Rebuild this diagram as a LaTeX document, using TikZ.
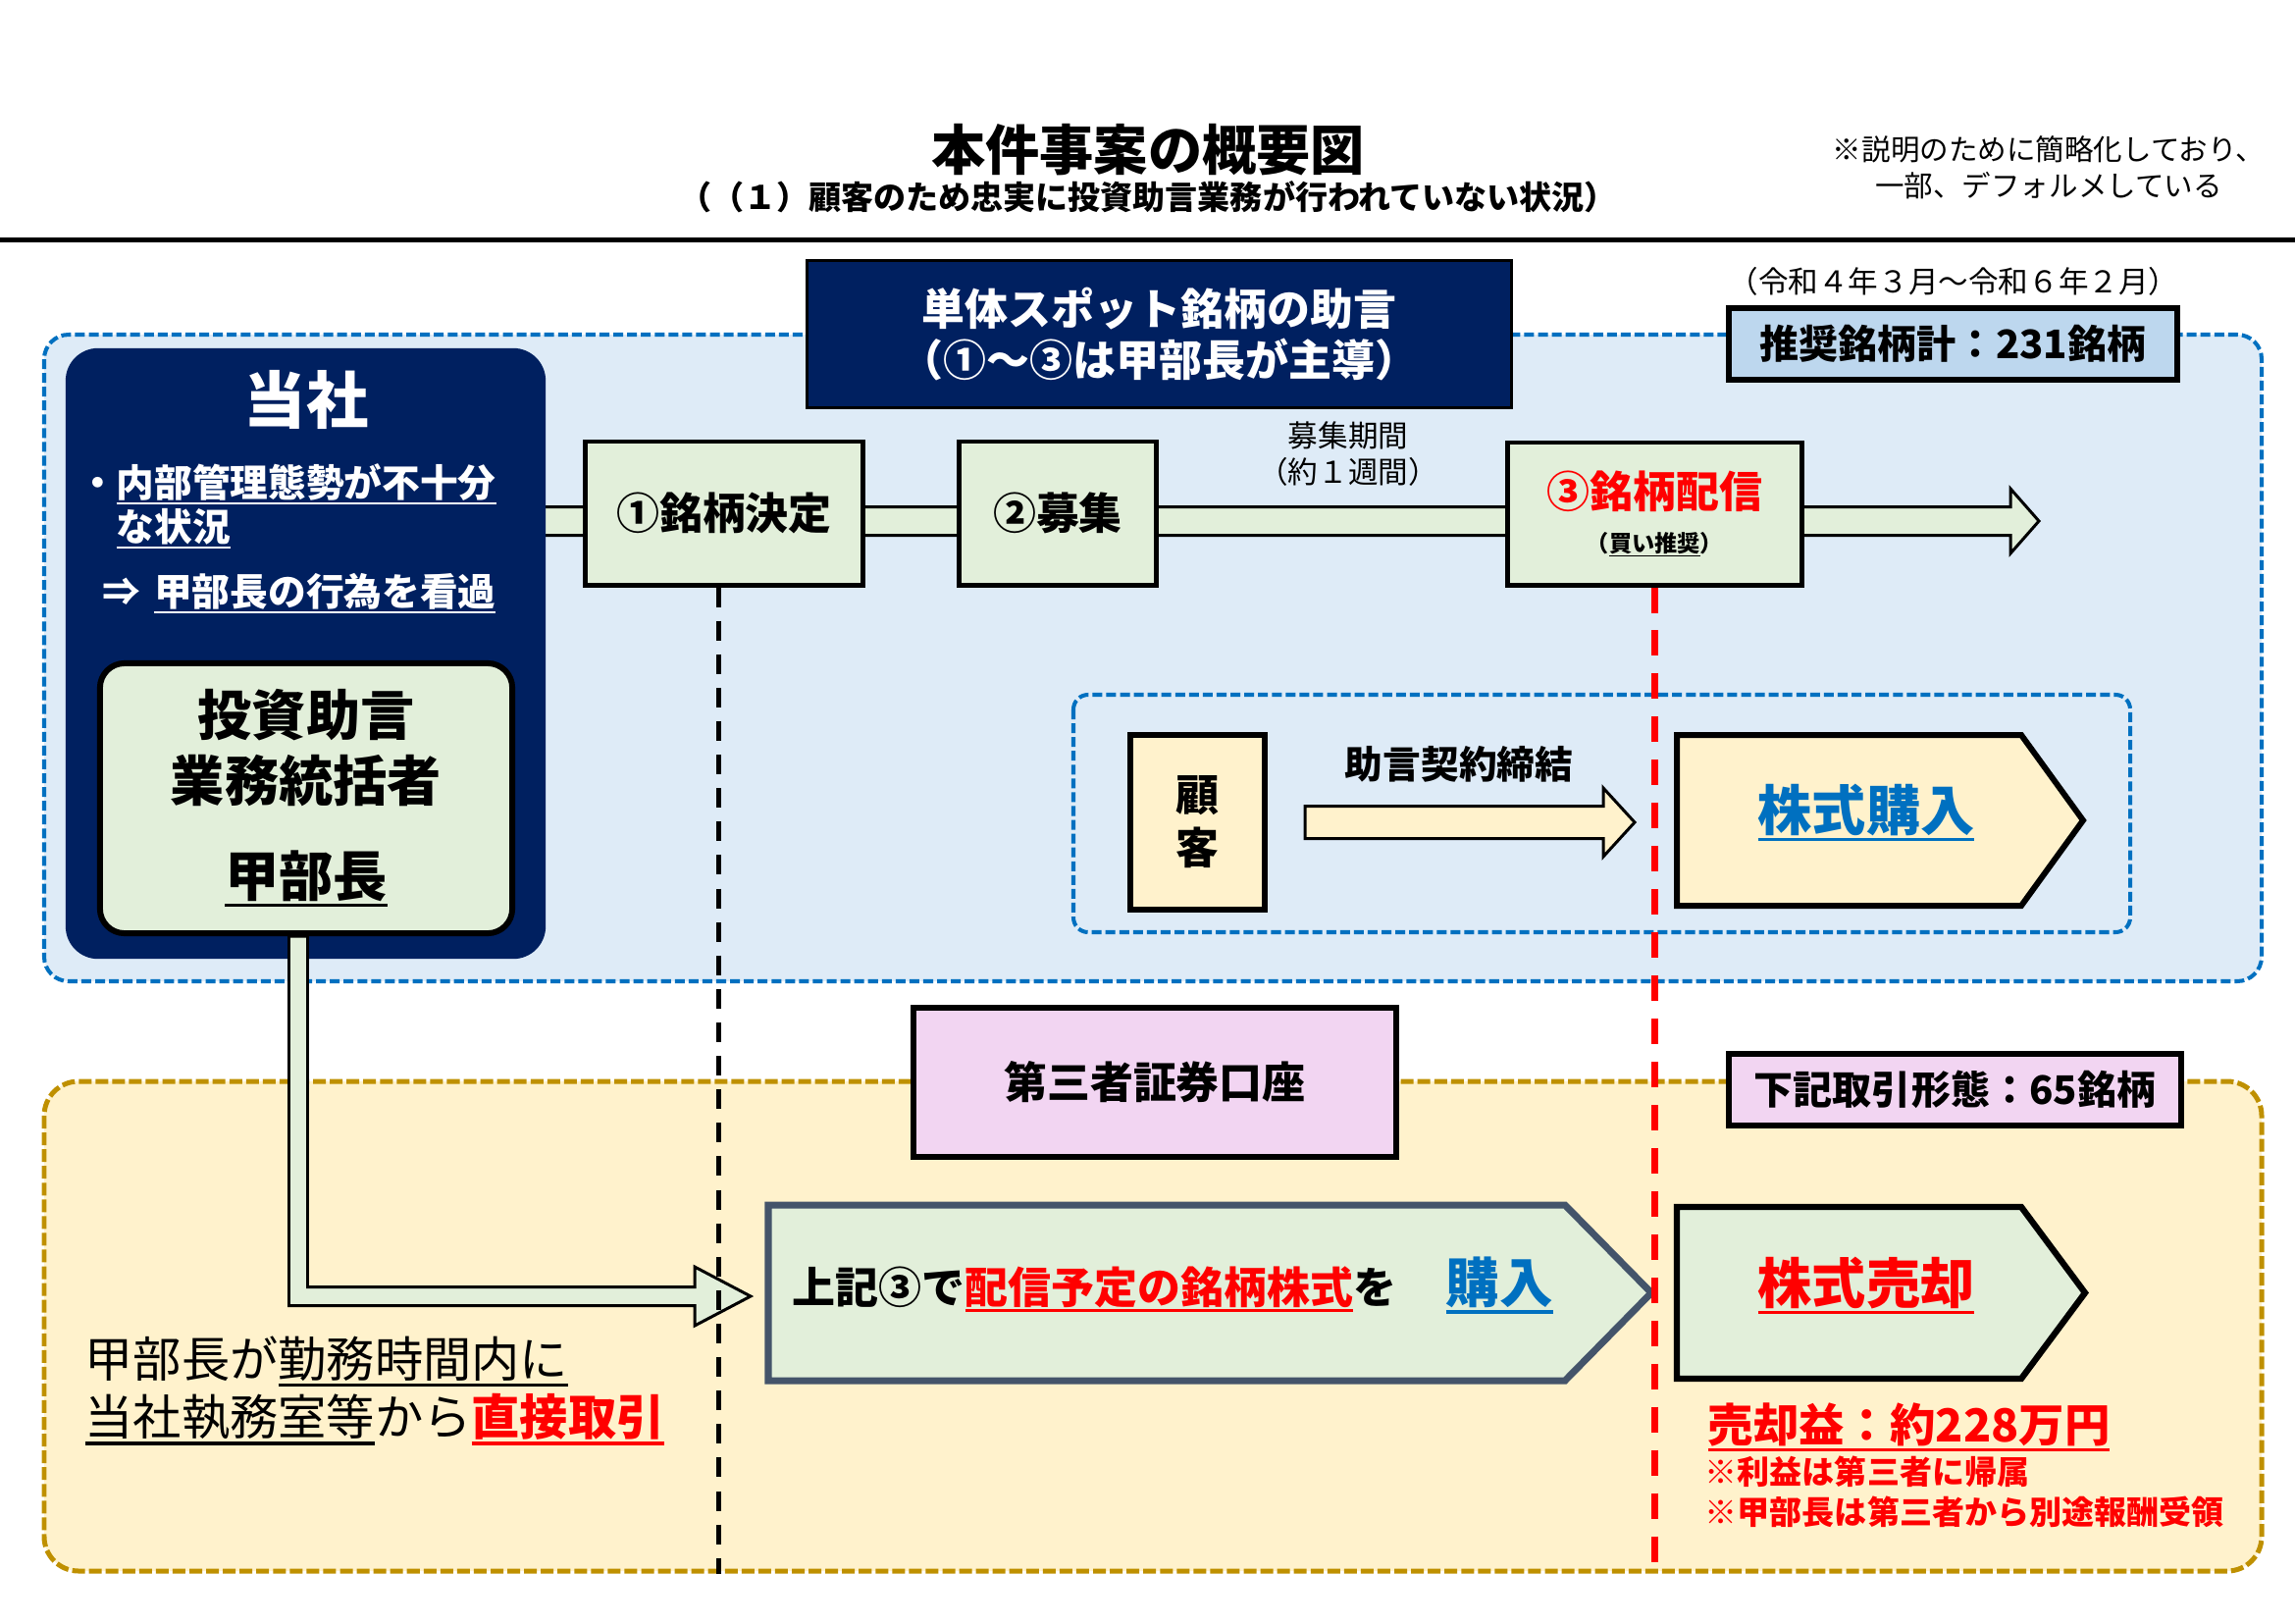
\documentclass[tikz,border=0pt]{standalone}
\usepackage{fontspec}
\setmainfont{Noto Sans CJK JP}
\usetikzlibrary{calc}
\definecolor{navy}{HTML}{002060}
\definecolor{paleblue}{HTML}{DEEBF7}
\definecolor{dashblue}{HTML}{0070C0}
\definecolor{linkblue}{HTML}{0070C0}
\definecolor{cream}{HTML}{FFF2CC}
\definecolor{gold}{HTML}{BF9000}
\definecolor{palegreen}{HTML}{E2EFDA}
\definecolor{lilac}{HTML}{F2D5F2}
\definecolor{skyblue}{HTML}{BDD7EE}
\definecolor{slate}{HTML}{44546A}
\definecolor{alert}{HTML}{FF0000}
\newsavebox\ulbox
\newcommand\ulbar[1]{\sbox\ulbox{#1}\rlap{\rule[-0.2em]{\wd\ulbox}{0.065em}}\usebox\ulbox}
\newcommand\fsz[2]{\fontsize{#1}{#2}\selectfont}
\def\penta#1#2#3{-- ++(#1,0) -- ++(#2,#3/2) -- ++(-#2,#3/2) -- ++(-#1,0) -- cycle}
\newcommand\fatarrow[6]{\filldraw[#1] ($(#2)+(0,-#4)$) -- ($(#3)+(-#6,-#4)$) -- ($(#3)+(-#6,-#5)$) -- (#3)
  -- ($(#3)+(-#6,#5)$) -- ($(#3)+(-#6,#4)$) -- ($(#2)+(0,#4)$) -- cycle;}
\newcommand\elbowarrow[6]{\filldraw[#1] ($(#2)+(-#4,0)$) -- ($(#2 |- #3)+(-#4,#4)$) -- ($(#3)+(-#6,#4)$)
  -- ($(#3)+(-#6,#5)$) -- (#3) -- ($(#3)+(-#6,-#5)$) -- ($(#3)+(-#6,-#4)$) -- ($(#2 |- #3)+(#4,-#4)$)
  -- ($(#2)+(#4,0)$) -- cycle;}

\begin{document}
\begin{tikzpicture}[x=0.01cm,y=-0.01cm,
  every node/.style={inner sep=0pt},
  zone/.style={line width=1.15pt, dash pattern=on 2.85pt off 1.15pt},
  stepbox/.style={draw, line width=1.4pt, fill=palegreen, font=\bfseries\fsz{12.5}{15}},
  tagbox/.style={draw, line width=1.7pt, font=\bfseries\fsz{11.4}{14}},
  fat/.style={draw, line width=0.85pt},
  vguide/.style={line width=1.42pt, dash pattern=on 5.7pt off 4pt},
  rguide/.style={draw=alert, line width=2pt, dash pattern=on 7.4pt off 5.1pt}]
\useasboundingbox (0,0) rectangle (2339,1654);
% heading
\node[font=\bfseries\fsz{15.7}{19}] (title) at (1170,153) {本件事案の概要図};
\node[font=\bfseries\fsz{9.4}{11}] (subtitle) at (1170,201) {（（１）顧客のため忠実に投資助言業務が行われていない状況）};
\node[font=\fsz{8.4}{10.5}, align=center] (remark) at (2088,171) {※説明のために簡略化しており、\\一部、デフォルメしている};
\draw[line width=1.6pt] (0,244.5) -- (2339,244.5);

% zones
\draw[zone, draw=dashblue, fill=paleblue, rounded corners=0.25cm] (45,341) rectangle (2305,1000);
\draw[zone, draw=gold, fill=cream, rounded corners=0.35cm, line width=1.42pt, dash pattern=on 3.7pt off 1.15pt] (45,1102) rectangle (2305,1601);
\draw[zone, draw=dashblue, rounded corners=0.15cm] (1094,708) rectangle (2171,950);

% advice flow
\coordinate (flowstart) at (530,531);
\coordinate (flowtip) at (2078,531);
\fatarrow{fat,fill=palegreen}{flowstart}{flowtip}{14.5}{33}{29}

% company
\node[fill=navy, rounded corners=0.33cm, minimum width=4.89cm, minimum height=6.22cm] (tousha) at (311.5,666) {};
\node[text=white, font=\bfseries\fsz{18}{22}] (toushaname) at (312,407) {当社};
\node[text=white, font=\bfseries\fsz{11}{12.8}, align=left, anchor=west] (weak) at (118,516) {\llap{\makebox[1em]{・}}\ulbar{内部管理態勢が不十分}\\\ulbar{な状況}};
\node[text=white, font=\bfseries\fsz{11}{13}, anchor=west] (overlook) at (104,605) {⇒\hspace{0.36em}\ulbar{甲部長の行為を看過}};
\node[draw, line width=1.7pt, fill=palegreen, rounded corners=0.25cm, minimum width=4.2cm, minimum height=2.75cm,
  align=center, font=\bfseries\fsz{15.7}{19}] (toukatsu) at (312,813.5) {投資助言\\業務統括者\\[8.5pt]\ulbar{甲部長}};

% steps
\node[stepbox, minimum width=2.82cm, minimum height=1.46cm] (kettei) at (738,523) {①銘柄決定};
\node[stepbox, minimum width=2cm, minimum height=1.46cm] (boshu) at (1078,523) {②募集};
\node[stepbox, minimum width=2.99cm, minimum height=1.45cm, align=center, font=\bfseries\fsz{12.5}{13}] (haishin) at (1686.5,523.5)
  {\textcolor{alert}{③銘柄配信}\\{\fsz{6.6}{8}（\ulbar{買い推奨}）}};
\node[font=\fsz{8.7}{10.5}, align=center] (kikan) at (1374,463) {募集期間\\（約１週間）};

% header tags
\node[draw, line width=0.85pt, fill=navy, text=white, minimum width=7.17cm, minimum height=1.49cm, align=center,
  font=\bfseries\fsz{12.5}{14.8}] (spot) at (1181.5,340.5) {単体スポット銘柄の助言\\（①～③は甲部長が主導）};
\node[font=\fsz{8.7}{10.5}] (span) at (1991,287) {（令和４年３月～令和６年２月）};
\node[tagbox, fill=skyblue, minimum width=4.57cm, minimum height=0.73cm] (total) at (1990.5,350.5) {推奨銘柄計：231銘柄};

% customer side
\node[draw, line width=1.7pt, fill=cream, minimum width=1.37cm, minimum height=1.78cm, align=center,
  font=\bfseries\fsz{12.5}{15.4}] (kokyaku) at (1220.5,838) {顧\\客};
\node[font=\bfseries\fsz{11}{13}] (keiyaku) at (1487,779) {助言契約締結};
\coordinate (keiyakustart) at ($(kokyaku.east)+(38,0)$);
\coordinate (keiyakutip) at (1666,838);
\fatarrow{fat,fill=cream}{keiyakustart}{keiyakutip}{16.5}{35}{32}
\draw[line width=1.7pt, fill=cream] (1709,749) \penta{351}{63}{174};
\node[text=linkblue, font=\bfseries\fsz{15.7}{19}] (kabukonyu) at (1902,828) {\ulbar{株式購入}};

% third-party account
\node[draw, line width=1.7pt, fill=lilac, minimum width=4.92cm, minimum height=1.52cm, font=\bfseries\fsz{12.5}{15}] (koza) at (1177,1103) {第三者証券口座};
\node[tagbox, fill=lilac, minimum width=4.61cm, minimum height=0.73cm] (keitai) at (1992.5,1110.5) {下記取引形態：65銘柄};

% direct trading
\draw[line width=2pt, draw=slate, fill=palegreen] (783,1228) \penta{812}{88}{179};
\node[anchor=west, font=\bfseries\fsz{12.5}{15}] (jouki) at (807,1314) {上記③で\textcolor{alert}{\ulbar{配信予定の銘柄株式}}を};
\node[text=linkblue, font=\bfseries\fsz{15.5}{19}] (konyu) at (1528,1310) {\ulbar{購入}};
\coordinate (elbowstart) at ($(toukatsu.south)+(-8,0)$);
\coordinate (elbowtip) at (765,1321);
\elbowarrow{fat,fill=palegreen}{elbowstart}{elbowtip}{9.5}{30}{57}
\draw[line width=1.8pt, fill=palegreen] (1709,1230) \penta{351}{65}{175};
\node[text=alert, font=\bfseries\fsz{15.7}{19}] (baikyaku) at (1902,1310) {\ulbar{株式売却}};
\node[anchor=west, text=alert, font=\bfseries\fsz{13.2}{16}] (rieki) at (1740,1454) {\ulbar{売却益：約228万円}};
\node[anchor=west, text=alert, align=left, font=\bfseries\fsz{9.4}{11.7}] (kizoku) at (1737,1520) {※利益は第三者に帰属\\※甲部長は第三者から別途報酬受領};
\node[anchor=west, align=left, font=\fsz{14}{17}] (chokusetsu) at (86,1417)
  {甲部長が\ulbar{勤務時間内に}\\\ulbar{当社執務室等}から\textcolor{alert}{\bfseries\ulbar{直接取引}}};

% period borders
\coordinate (floor) at (0,1604);
\draw[vguide] ($(kettei.south)+(-6,0)$) -- ($(kettei.south |- floor)+(-6,0)$);
\draw[rguide] (haishin.south) -- (haishin.south |- floor);
\end{tikzpicture}
\end{document}
